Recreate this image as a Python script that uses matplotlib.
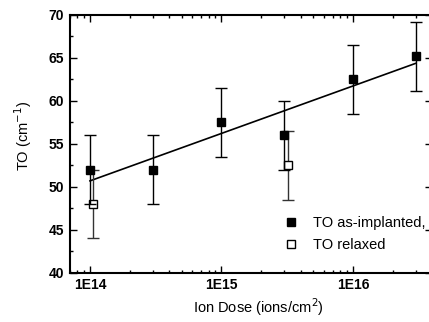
import numpy as np
import matplotlib
matplotlib.use("Agg")
import matplotlib.pyplot as plt
from matplotlib.lines import Line2D
from matplotlib.ticker import LogLocator, FixedLocator, MultipleLocator, FuncFormatter

plt.rcParams['font.family'] = ['Liberation Sans', 'DejaVu Sans']

# Data
dose_impl = [1e14, 3e14, 1e15, 3e15, 1e16, 3e16]
to_impl = [52.0, 52.0, 57.5, 56.0, 62.5, 65.2]
err_impl = [4.0, 4.0, 4.0, 4.0, 4.0, 4.0]

dose_relax = [1.06e14, 3.2e15]
to_relax = [48.0, 52.5]
err_relax = [4.0, 4.0]

xticks = [1e14, 1e15, 1e16]
xticklabels = ['1E14', '1E15', '1E16']
yticks = [40, 45, 50, 55, 60, 65, 70]

fig = plt.figure(figsize=(4.29, 3.22), dpi=100)
ax = fig.add_axes([69.6 / 429, 1 - 272.7 / 322, (432.2 - 69.6) / 429, (272.7 - 15) / 322])

# Linear fit in log(dose)
coef = np.polyfit(np.log10(dose_impl), to_impl, 1)
xf = np.array([dose_impl[0], dose_impl[-1]])
ax.plot(xf, coef[1] + coef[0] * np.log10(xf), color='black', lw=1.2, zorder=2)

ax.errorbar(dose_relax, to_relax, yerr=err_relax, fmt='s', ms=5.5, mfc='white', mec='black',
            mew=1.0, ecolor='#333333', elinewidth=1.0, capsize=4, capthick=1.0, zorder=3)
ax.errorbar(dose_impl, to_impl, yerr=err_impl, fmt='s', ms=5.5, mfc='black', mec='black',
            ecolor='black', elinewidth=1.0, capsize=4, capthick=1.0, zorder=4)

ax.set_xscale('log')
ax.set_xlim(7e13, 4e16)
ax.set_ylim(40, 70)

ax.xaxis.set_major_locator(FixedLocator(xticks))
ax.set_xticks(xticks)
ax.set_xticklabels(xticklabels)
ax.xaxis.set_minor_locator(LogLocator(base=10, subs=np.arange(2, 10)))
ax.xaxis.set_minor_formatter(FuncFormatter(lambda v, p: ''))
ax.set_yticks(yticks)
ax.yaxis.set_minor_locator(MultipleLocator(2.5))

ax.tick_params(which='both', direction='in', top=True, right=True, width=1.0)
ax.tick_params(which='major', length=5, labelsize=10, pad=4)
ax.tick_params(which='minor', length=2.5)
for lab in ax.get_xticklabels() + ax.get_yticklabels():
    lab.set_fontweight('bold')

for s in ax.spines.values():
    s.set_linewidth(1.5)

ax.set_ylabel('TO (cm$^{-1}$)', fontsize=10.5)
ax.yaxis.set_label_coords(-0.097, 0.53)
ax.set_xlabel('Ion Dose (ions/cm$^{2}$)', fontsize=10.5)
ax.xaxis.set_label_coords(0.52, -0.09)

handles = [Line2D([], [], ls='none', marker='s', ms=5.5, mfc='black', mec='black'),
           Line2D([], [], ls='none', marker='s', ms=5.5, mfc='white', mec='black')]
ax.legend(handles, ['TO as-implanted,', 'TO relaxed'], loc='center left',
          bbox_to_anchor=(0.57, 0.15), frameon=False, fontsize=10.5,
          handlelength=1.0, handletextpad=1.0, labelspacing=0.6, borderpad=0)

fig.savefig('out.png', dpi=100)
